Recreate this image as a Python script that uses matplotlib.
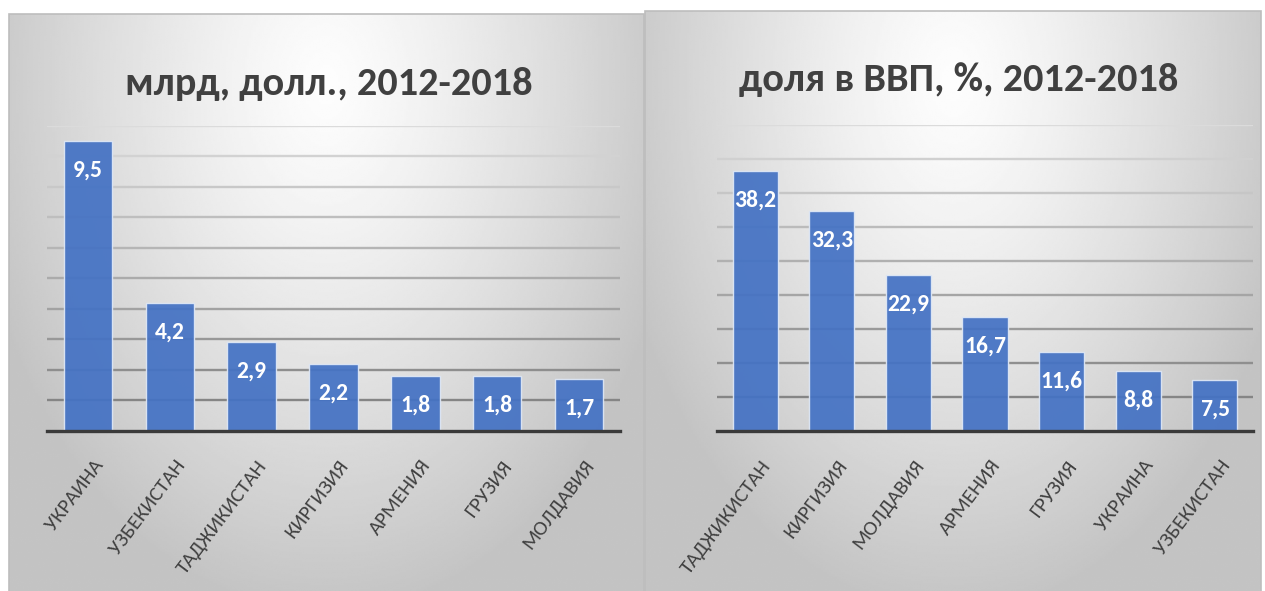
import numpy as np
import matplotlib
matplotlib.use("Agg")
import matplotlib.pyplot as plt
from matplotlib import font_manager as fm
from matplotlib.patches import Rectangle
from matplotlib.transforms import ScaledTranslation

# remittances: billions USD and share of GDP, 2012-2018
left_categories = ['УКРАИНА', 'УЗБЕКИСТАН', 'ТАДЖИКИСТАН', 'КИРГИЗИЯ', 'АРМЕНИЯ', 'ГРУЗИЯ', 'МОЛДАВИЯ']
left_values = [9.5, 4.2, 2.9, 2.2, 1.8, 1.8, 1.7]
left_title = 'млрд, долл., 2012-2018'

right_categories = ['ТАДЖИКИСТАН', 'КИРГИЗИЯ', 'МОЛДАВИЯ', 'АРМЕНИЯ', 'ГРУЗИЯ', 'УКРАИНА', 'УЗБЕКИСТАН']
right_values = [38.2, 32.3, 22.9, 16.7, 11.6, 8.8, 7.5]
right_title = 'доля в ВВП, %, 2012-2018'

names = {f.name for f in fm.fontManager.ttflist}
font = 'Open Sans'
for cand in ['Carlito', 'Open Sans Condensed', 'Roboto Condensed', 'Liberation Sans Narrow', 'Open Sans']:
    if cand in names:
        font = cand
        break
narrow = font != 'Open Sans'
plt.rcParams['font.family'] = [font, 'DejaVu Sans']

W, H, DPI = 1265, 591, 100
fig = plt.figure(figsize=(W / DPI, H / DPI), dpi=DPI, facecolor='white')

# background layer in pixel coordinates
bg = fig.add_axes([0, 0, 1, 1], zorder=-5)
bg.set_xlim(0, W)
bg.set_ylim(H, 0)
bg.axis('off')


def panel(x0, x1, y0, y1):
    xs = np.linspace(x0, x1, 300)
    ys = np.linspace(y0, y1, 300)
    X, Y = np.meshgrid(xs, ys)
    cx, cy = (x0 + x1) / 2, y0 + 70
    d = np.sqrt(((X - cx) / ((x1 - x0) * 0.62)) ** 2 + ((Y - cy) / ((y1 - y0) * 1.0)) ** 2)
    v = np.clip(253 - 64 * d ** 1.25, 196, 253) / 255
    bg.imshow(v, cmap='gray', vmin=0, vmax=1, extent=(x0, x1, y1, y0),
              aspect='auto', interpolation='bilinear')
    bg.add_patch(Rectangle((x0, y0), x1 - x0, y1 - y0, fill=False,
                           edgecolor='#bdbdbd', lw=1.2))


panel(9, 644, 14, 592)
panel(645, 1261, 11, 592)

tsize = 29 if narrow else 25
bg.text(329, 95, left_title, ha='center', va='baseline', fontsize=tsize,
        fontweight='bold', color='#404040')
bg.text(959, 91, right_title, ha='center', va='baseline', fontsize=tsize,
        fontweight='bold', color='#404040')


def draw(rect, cats, vals, ymax, step):
    ax = fig.add_axes(rect)
    ax.set_facecolor('none')
    x = np.arange(len(cats))
    ax.bar(x, vals, width=0.59, color='#4472C4', alpha=0.93,
           edgecolor='#dfe8f6', linewidth=1.0, zorder=3)
    ax.set_xlim(-0.5, len(cats) - 0.5)
    ax.set_ylim(0, ymax)
    ticks = np.arange(step, ymax + step / 2, step)
    for i, t in enumerate(ticks):
        frac = i / (len(ticks) - 1)
        c = 0.52 + 0.34 * frac
        ax.axhline(t, color=(c, c, c), lw=1.7, zorder=1)
    for s in ['top', 'right', 'left']:
        ax.spines[s].set_visible(False)
    ax.spines['bottom'].set_color('#3a3a3a')
    ax.spines['bottom'].set_linewidth(2.4)
    ax.spines['bottom'].set_zorder(4)
    ax.set_yticks([])
    ax.set_xticks(x)
    ax.set_xticklabels(cats, rotation=53, ha='right', va='top', rotation_mode='anchor',
                       fontsize=15 if narrow else 13, color='#404040')
    ax.tick_params(axis='x', length=0, pad=19)
    off = ScaledTranslation(5 / DPI, 0, fig.dpi_scale_trans)
    for lab in ax.get_xticklabels():
        lab.set_transform(lab.get_transform() + off)
    for xi, v in zip(x, vals):
        ax.annotate(f'{v:.1f}'.replace('.', ','), (xi, v), xytext=(0, -29),
                    textcoords='offset pixels', ha='center', va='center',
                    fontsize=17 if narrow else 14, fontweight='bold', color='white', zorder=5)
    return ax


draw([47 / W, 1 - 430.7 / H, 573 / W, (430.7 - 126) / H], left_categories, left_values, 10, 1)
draw([717 / W, 1 - 430.7 / H, 536 / W, (430.7 - 125) / H], right_categories, right_values, 45, 5)

fig.savefig('out.png', dpi=DPI, facecolor='white')
